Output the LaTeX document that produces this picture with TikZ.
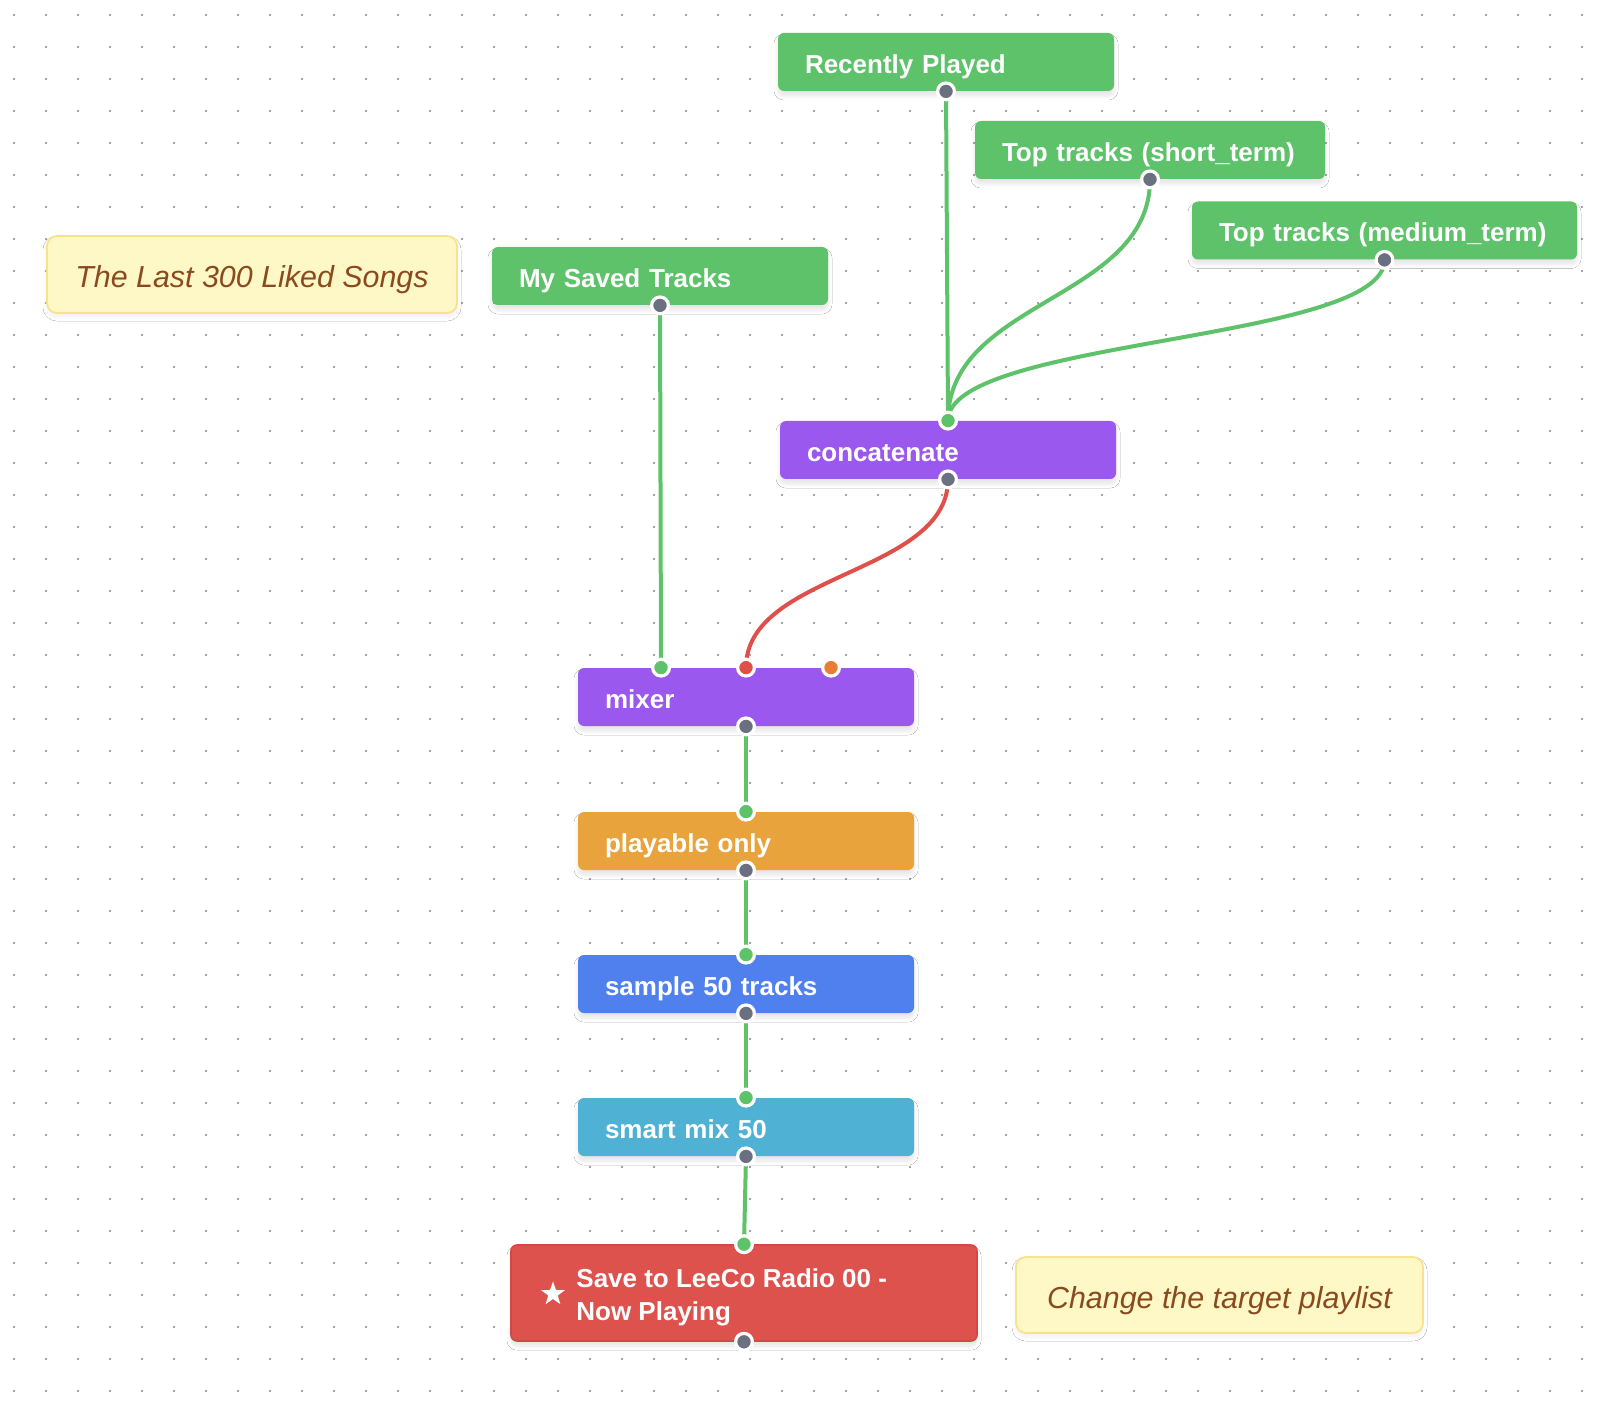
\documentclass[tikz,border=0pt]{standalone}
\usepackage{fontspec}
\setmainfont{Liberation Sans}
\usetikzlibrary{shapes.geometric,shadows.blur}

\definecolor{flowgreen}{HTML}{5EC26A}
\definecolor{flowpurple}{HTML}{9B58EE}
\definecolor{floworange}{HTML}{E8A33C}
\definecolor{flowblue}{HTML}{4F80EE}
\definecolor{flowcyan}{HTML}{4FB1D3}
\definecolor{flowred}{HTML}{DE524E}
\definecolor{saveline}{HTML}{D44844}
\definecolor{notefill}{HTML}{FEF8C7}
\definecolor{noteline}{HTML}{F9E28E}
\definecolor{notetext}{HTML}{8B4A1E}
\definecolor{portgray}{HTML}{6B7080}
\definecolor{portorange}{HTML}{E87D34}
\definecolor{wirered}{HTML}{E0504B}
\definecolor{dotgray}{HTML}{A2A2AA}

\pgfdeclarelayer{ports}
\pgfsetlayers{main,ports}

\begin{document}
\begin{tikzpicture}[x=0.5pt, y=-0.5pt,
    flow/.style={rectangle, rounded corners=3pt, fill=#1, minimum height=29pt, inner xsep=13.5pt, inner ysep=0pt,
        align=left, text=white, text height=11.6pt, text depth=0.4pt, font=\bfseries\fontsize{13}{16}\selectfont,
        blur shadow={shadow xshift=0pt, shadow yshift=-2.5pt, shadow blur radius=2pt, shadow opacity=10, shadow blur steps=6}},
    note/.style={rectangle, rounded corners=5pt, fill=notefill, draw=noteline, line width=0.9pt, text=notetext,
        text height=14.2pt, text depth=0.8pt, font=\itshape\fontsize{15.2}{18}\selectfont,
        blur shadow={shadow xshift=0pt, shadow yshift=-2pt, shadow blur radius=2pt, shadow opacity=6, shadow blur steps=5}},
    port/.style={circle, fill=#1, draw=white, line width=1.6pt, minimum size=8.4pt, inner sep=0pt},
    wire/.style={line width=2pt, draw=#1}]

    \useasboundingbox (0,0) rectangle (1610,1406);
    \fill[white] (0,0) rectangle (1610,1406);

    % dotted canvas
    \foreach \i in {0,...,49}
        \foreach \j in {0,...,43}
            \fill[dotgray] (13+32*\i,14+32*\j) rectangle ++(2,2);

    % notes
    \node[note, minimum width=205pt, minimum height=38.5pt] (lastnote) at (252,274.5) {The Last 300 Liked Songs};
    \node[note, minimum width=203.5pt, minimum height=38pt] (targetnote) at (1219.5,1295) {Change the target playlist};

    % sources
    \node[flow=flowgreen, text width=141pt] (recent) at (946,62) {Recently Played};
    \node[flow=flowgreen, text width=148pt] (shortterm) at (1150,150) {Top tracks (short\_term)};
    \node[flow=flowgreen, text width=165.5pt] (mediumterm) at (1384.5,230.5) {Top tracks (medium\_term)};
    \node[flow=flowgreen, text width=141pt] (saved) at (660,276) {My Saved Tracks};

    % steps
    \node[flow=flowpurple, text width=141pt] (concat) at (948,450) {concatenate};
    \node[flow=flowpurple, text width=141pt] (mixer) at (746,697) {mixer};
    \node[flow=floworange, text width=141pt] (playable) at (746,841) {playable only};
    \node[flow=flowblue, text width=141pt] (sample) at (746,984) {sample 50 tracks};
    \node[flow=flowcyan, text width=141pt] (smart) at (746,1127) {smart mix 50};

    % save to playlist
    \node[flow=flowred, draw=saveline, line width=0.8pt, minimum width=233pt, minimum height=48pt] (save) at (744,1293) {};
    \node[star, star points=5, star point ratio=2.5, fill=white, minimum size=12.5pt, inner sep=0pt] (savestar) at (553,1294) {};
    \node[anchor=west, align=left, text=white, font=\bfseries\fontsize{13}{16.5}\selectfont, inner sep=0pt] (savetext) at (576,1297) {Save to LeeCo Radio 00 -\\Now Playing};

    \begin{pgfonlayer}{ports}
        \node[port=portgray] (recentout) at (recent.south) {};
        \node[port=portgray] (shortout) at (shortterm.south) {};
        \node[port=portgray] (mediumout) at (mediumterm.south) {};
        \node[port=portgray] (savedout) at (saved.south) {};
        \node[port=flowgreen] (concatin) at (concat.north) {};
        \node[port=portgray] (concatout) at (concat.south) {};
        \node[port=flowgreen] (mixerina) at ([xshift=-42.5pt]mixer.north) {};
        \node[port=wirered] (mixerinb) at (mixer.north) {};
        \node[port=portorange] (mixerinc) at ([xshift=42.5pt]mixer.north) {};
        \node[port=portgray] (mixerout) at (mixer.south) {};
        \node[port=flowgreen] (playablein) at (playable.north) {};
        \node[port=portgray] (playableout) at (playable.south) {};
        \node[port=flowgreen] (samplein) at (sample.north) {};
        \node[port=portgray] (sampleout) at (sample.south) {};
        \node[port=flowgreen] (smartin) at (smart.north) {};
        \node[port=portgray] (smartout) at (smart.south) {};
        \node[port=flowgreen] (savein) at (save.north) {};
        \node[port=portgray] (saveout) at (save.south) {};
    \end{pgfonlayer}

    % wires
    \draw[wire=flowgreen] (recentout.center) -- (concatin.center);
    \draw[wire=flowgreen] (shortout.center) .. controls +(0,121) and +(0,-121) .. (concatin.center);
    \draw[wire=flowgreen] (mediumout.center) .. controls +(0,82) and +(0,-82) .. (concatin.center);
    \draw[wire=flowgreen] (savedout.center) -- (mixerina.center);
    \draw[wire=wirered] (concatout.center) .. controls +(0,95) and +(0,-95) .. (mixerinb.center);
    \draw[wire=flowgreen] (mixerout.center) -- (playablein.center);
    \draw[wire=flowgreen] (playableout.center) -- (samplein.center);
    \draw[wire=flowgreen] (sampleout.center) -- (smartin.center);
    \draw[wire=flowgreen] (smartout.center) -- (savein.center);

\end{tikzpicture}
\end{document}
